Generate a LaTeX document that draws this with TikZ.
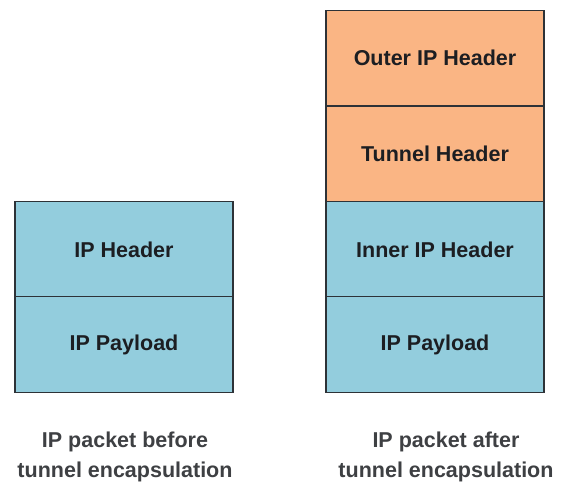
\documentclass[tikz,border=0pt]{standalone}
\usepackage{fontspec}
\setmainfont{Liberation Sans}
\definecolor{pktblue}{RGB}{147,205,221}
\definecolor{pktorange}{RGB}{250,181,132}
\definecolor{pktline}{RGB}{45,50,55}
\definecolor{pkttext}{RGB}{28,30,34}
\begin{document}
\begin{tikzpicture}[x=1pt,y=-1pt,
  layer/.style={draw=pktline, line width=1.3pt, minimum width=218pt, minimum height=95.5pt,
    inner sep=0pt, outer sep=0pt, text=pkttext, font=\fontsize{21.5}{24}\selectfont\bfseries},
  bluelayer/.style={layer, fill=pktblue},
  orangelayer/.style={layer, fill=pktorange},
  caption/.style={align=center, text=pkttext!85!white, font=\fontsize{21.5}{30}\selectfont\bfseries}]
\useasboundingbox (0,0) rectangle (561,481);
% left packet
\node[bluelayer] (lhdr) at (124,249.5) {IP Header};
\node[bluelayer] (lpay) at (124,344.5) {IP Payload};
% right packet
\node[orangelayer] (router) at (435,58) {Outer IP Header};
\node[orangelayer] (rtun) at (435,154) {Tunnel Header};
\node[bluelayer] (rinner) at (435,249.5) {Inner IP Header};
\node[bluelayer] (rpay) at (435,344.5) {IP Payload};
% captions
\node[caption] (lcap) at (125,457.4) {IP packet before\\tunnel encapsulation};
\node[caption] (rcap) at (446,457.4) {IP packet after\\tunnel encapsulation};
\end{tikzpicture}
\end{document}
